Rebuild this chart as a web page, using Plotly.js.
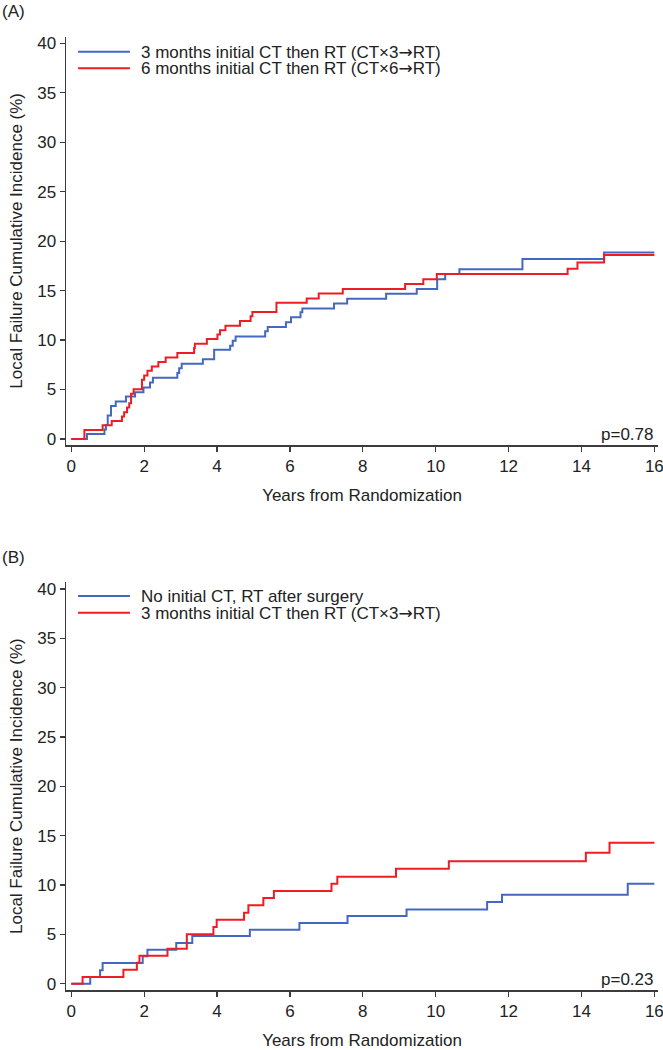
<!DOCTYPE html>
<html>
<head>
<meta charset="utf-8">
<script src="https://cdn.plot.ly/plotly-3.0.1.min.js"></script>
<style>
  html, body { margin: 0; padding: 0; background: #fff; }
  #chart { width: 663px; height: 1050px; }
</style>
</head>
<body>
<div id="chart"></div>
<script>
// Local failure cumulative incidence, two panels (A, B).
var A_BLUE_T = [0, 0.43, 0.91, 0.95, 1.0, 1.09, 1.22, 1.5, 1.75, 1.98, 2.16, 2.24, 2.91, 2.96, 3.03, 3.61, 3.92, 4.36, 4.43, 4.51,
                5.32, 5.39, 5.89, 6.03, 6.29, 6.34, 7.21, 7.57, 8.64, 9.48, 10.04, 10.26, 10.65, 12.38, 14.62, 16];
var A_BLUE_Y = [0, 0.5, 0.95, 1.42, 2.36, 3.34, 3.78, 4.29, 4.73, 5.2, 5.7, 6.18, 6.66, 7.16, 7.6, 8.07, 9.02, 9.43, 9.93, 10.37,
                10.88, 11.32, 11.79, 12.3, 12.8, 13.2, 13.7, 14.17, 14.68, 15.15, 16.16, 16.67, 17.17, 18.2, 18.86, 18.86];
var A_RED_T = [0, 0.36, 0.86, 1.11, 1.39, 1.45, 1.53, 1.59, 1.64, 1.71, 1.94, 2.0, 2.09, 2.21, 2.39, 2.59, 2.91, 3.37, 3.39, 3.72,
               4.01, 4.08, 4.23, 4.63, 4.92, 4.97, 5.63, 6.46, 6.79, 7.45, 9.16, 9.66, 10.03, 13.62, 13.89, 14.62, 16];
var A_RED_Y = [0, 0.91, 1.39, 1.82, 2.26, 2.7, 3.18, 3.61, 4.56, 5.03, 5.98, 6.42, 6.89, 7.33, 7.77, 8.24, 8.68, 9.19, 9.63, 10.1,
               10.57, 11.0, 11.45, 11.93, 12.4, 12.84, 13.78, 14.2, 14.7, 15.17, 15.66, 16.16, 16.67, 17.2, 17.85, 18.6, 18.6];

var B_BLUE_T = [0, 0.52, 0.79, 0.86, 1.96, 2.09, 2.88, 3.32, 4.9, 6.26, 7.58, 9.2, 11.41, 11.82, 15.27, 16];
var B_BLUE_Y = [0, 0.68, 1.35, 2.09, 2.77, 3.45, 4.12, 4.83, 5.47, 6.16, 6.86, 7.53, 8.27, 9.01, 10.13, 10.13];
var B_RED_T = [0, 0.31, 1.43, 1.8, 1.87, 2.64, 3.17, 3.9, 3.99, 4.74, 4.86, 5.27, 5.56, 7.14, 7.3, 8.91, 10.36, 14.12, 14.77, 16];
var B_RED_Y = [0, 0.68, 1.42, 2.13, 2.84, 3.55, 5.0, 5.74, 6.49, 7.2, 7.94, 8.68, 9.39, 10.14, 10.84, 11.65, 12.42, 13.27, 14.29, 14.29];

var ARROW = '<span style="font-family:DejaVu Sans">\u2192</span>';
var A_NAMES = ['3 months initial CT then RT (CT\u00d73' + ARROW + 'RT)', '6 months initial CT then RT (CT\u00d76' + ARROW + 'RT)'];
var B_NAMES = ['No initial CT, RT after surgery', '3 months initial CT then RT (CT\u00d73' + ARROW + 'RT)'];
var P_VALUES = ['p=0.78', 'p=0.23'];
var X_TICKS = [0, 2, 4, 6, 8, 10, 12, 14, 16];
var Y_TICKS = [0, 5, 10, 15, 20, 25, 30, 35, 40];

(function () {
    'use strict';

    var W = 663, H = 1050;
    var BLUE = '#4468c0', RED = '#ee1d23', INK = '#222222', AXIS = '#3c3c3c';
    var FAMILY = '"Liberation Sans", Arial, sans-serif';
    var FONT = { family: FAMILY, size: 17, color: INK };

    // pixel -> paper helpers
    function px(x) { return x / W; }
    function py(y) { return (H - y) / H; }

    function step(t, y, color, xa, ya) {
        return {
            type: 'scatter', mode: 'lines', x: t, y: y, xaxis: xa, yaxis: ya,
            line: { color: color, width: 2, shape: 'hv' },
            hoverinfo: 'skip', showlegend: false,
        };
    }

    function xaxis(anchor) {
        return {
            domain: [px(66), px(658)], range: [-0.145, 16.1], anchor: anchor,
            showline: true, linecolor: AXIS, linewidth: 1.5, mirror: false,
            ticks: 'outside', ticklen: 5, tickwidth: 1.3, tickcolor: AXIS,
            tickvals: X_TICKS, tickfont: FONT, showgrid: false, zeroline: false,
            ticklabeloverflow: 'allow',
            title: { text: 'Years from Randomization', font: FONT, standoff: 14 },
            fixedrange: true,
        };
    }

    function yaxis(anchor, top, bottom, range) {
        return {
            domain: [py(bottom), py(top)], range: range, anchor: anchor,
            showline: true, linecolor: AXIS, linewidth: 1.5,
            ticks: 'outside', ticklen: 5, tickwidth: 1.3, tickcolor: AXIS,
            tickvals: Y_TICKS, tickfont: FONT, showgrid: false, zeroline: false,
            title: { text: 'Local Failure Cumulative Incidence (%)', font: FONT, standoff: 10 },
            fixedrange: true,
        };
    }

    // legend drawn by hand so the tight line spacing of the original holds
    function legend(names, y1, y2, shapes, notes) {
        [[y1, BLUE, names[0]], [y2, RED, names[1]]].forEach(function (it) {
            shapes.push({
                type: 'line', xref: 'paper', yref: 'paper',
                x0: px(78), x1: px(130), y0: py(it[0]), y1: py(it[0]),
                line: { color: it[1], width: 2 },
            });
            notes.push({
                xref: 'paper', yref: 'paper', x: px(139), y: py(it[0]),
                xanchor: 'left', yanchor: 'middle', showarrow: false,
                text: it[2], font: FONT,
            });
        });
    }

    var traces = [
        step(A_BLUE_T, A_BLUE_Y, BLUE, 'x', 'y'),
        step(A_RED_T, A_RED_Y, RED, 'x', 'y'),
        step(B_BLUE_T, B_BLUE_Y, BLUE, 'x2', 'y2'),
        step(B_RED_T, B_RED_Y, RED, 'x2', 'y2'),
    ];

    var shapes = [], notes = [];
    legend(A_NAMES, 51.7, 68.3, shapes, notes);
    legend(B_NAMES, 596, 612.7, shapes, notes);

    notes.push(
        { xref: 'paper', yref: 'paper', x: px(0), y: py(11), xanchor: 'left', yanchor: 'middle',
          showarrow: false, text: '(A)', font: FONT },
        { xref: 'paper', yref: 'paper', x: px(0), y: py(557), xanchor: 'left', yanchor: 'middle',
          showarrow: false, text: '(B)', font: FONT },
        { xref: 'paper', yref: 'paper', x: px(655), y: py(434), xanchor: 'right', yanchor: 'middle',
          showarrow: false, text: P_VALUES[0], font: FONT },
        { xref: 'paper', yref: 'paper', x: px(655), y: py(979), xanchor: 'right', yanchor: 'middle',
          showarrow: false, text: P_VALUES[1], font: FONT }
    );

    var layout = {
        width: W, height: H, margin: { l: 0, r: 0, t: 0, b: 0 },
        paper_bgcolor: '#fff', plot_bgcolor: '#fff', font: FONT, showlegend: false,
        xaxis: xaxis('y'),
        yaxis: yaxis('x', 36.7, 445, [-0.61, 40.67]),
        xaxis2: xaxis('y2'),
        yaxis2: yaxis('x2', 582.3, 990, [-0.64, 40.68]),
        shapes: shapes, annotations: notes,
    };

    Plotly.newPlot('chart', traces, layout, { staticPlot: true, displayModeBar: false });
})();
</script>
</body>
</html>
